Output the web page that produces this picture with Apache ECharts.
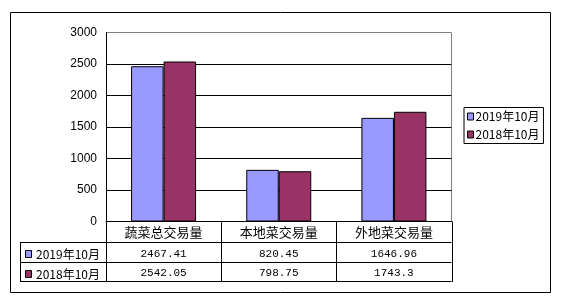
<!DOCTYPE html>
<html><head><meta charset="utf-8">
<script src="https://cdn.jsdelivr.net/npm/echarts@6/dist/echarts.min.js"></script>
<style>html,body{margin:0;padding:0;background:#fff}#c{width:562px;height:298px}</style>
</head><body><div id="c"></div>
<script>
var categories = ['蔬菜总交易量', '本地菜交易量', '外地菜交易量'];
var seriesNames = ['2019年10月', '2018年10月'];
var values2019 = [2467.41, 820.45, 1646.96];
var values2018 = [2542.05, 798.75, 1743.3];
var yTicks = [0, 500, 1000, 1500, 2000, 2500, 3000];

var C1 = '#9999FF', C2 = '#993366';
var FONT = '"Noto Sans CJK SC", "Liberation Sans", sans-serif';
var MONO = '"Liberation Mono", "DejaVu Sans Mono", monospace';
// layout
var GL = 106, GR = 451.5, GT = 32.7, GB = 221.5;
var R1 = 242, R2 = 262, R3 = 281, TL = 20.5;

var chart = echarts.init(document.getElementById('c'), null, {renderer: 'canvas'});

var graphics = [];
graphics.push({type:'rect', shape:{x:10.5,y:12.5,width:540,height:280}, style:{fill:null, stroke:'#000', lineWidth:1}, silent:true});
[R1, R2, R3].forEach(function(y){
  graphics.push({type:'line', shape:{x1:TL, y1:y+0.5, x2:GR, y2:y+0.5}, style:{stroke:'#000', lineWidth:1}});
});
graphics.push({type:'line', shape:{x1:TL, y1:R1, x2:TL, y2:R3+1}, style:{stroke:'#000', lineWidth:1}});
var cw = (GR - GL) / categories.length;
for (var i = 0; i <= categories.length; i++) {
  var x = Math.round(GL + cw * i) + 0.5;
  graphics.push({type:'line', shape:{x1:x, y1:GB, x2:x, y2:R3+1}, style:{stroke:'#000', lineWidth:1}});
}
graphics.push({type:'line', shape:{x1:451.5, y1:GT, x2:451.5, y2:GB}, style:{stroke:'#808080', lineWidth:1}});
[[R1, C1, seriesNames[0]], [R2, C2, seriesNames[1]]].forEach(function(r){
  graphics.push({type:'rect', shape:{x:25.5, y:r[0]+8.5, width:6, height:7}, style:{fill:r[1], stroke:'#000', lineWidth:1}});
  graphics.push({type:'text', x:36, y:r[0]+12.5, style:{text:r[2], font:'12px ' + FONT, fill:'#000', textVerticalAlign:'middle'}});
});

chart.setOption({
  animation: false,
  backgroundColor: '#fff',
  grid: {left: GL, right: 562 - GR, top: GT, bottom: 298 - GB, containLabel: false},
  legend: {
    orient: 'vertical', left: 464, top: 107.5, width: 83, height: 37,
    padding: [3, 4, 3, 3], itemGap: 6,
    borderColor: '#000', borderWidth: 1,
    icon: 'rect', itemWidth: 6, itemHeight: 7,
    itemStyle: {borderColor: '#000', borderWidth: 1},
    textStyle: {fontSize: 12, fontFamily: FONT, color: '#000', padding: [0,0,0,-3]},
    data: seriesNames
  },
  xAxis: [
    {type: 'category', data: categories, position: 'bottom',
     axisLine: {show: true, lineStyle: {color: '#000', width: 1}},
     axisTick: {show: false},
     axisLabel: {fontSize: 13, fontFamily: FONT, color: '#000', margin: 4}},
    {type: 'category', data: values2019.map(String), position: 'bottom', offset: R1 - GB,
     axisLine: {show: false}, axisTick: {show: false},
     axisLabel: {fontSize: 11, fontFamily: MONO, color: '#000', margin: 7}},
    {type: 'category', data: values2018.map(String), position: 'bottom', offset: R2 - GB,
     axisLine: {show: false}, axisTick: {show: false},
     axisLabel: {fontSize: 11, fontFamily: MONO, color: '#000', margin: 6}}
  ],
  yAxis: {
    type: 'value', min: yTicks[0], max: yTicks[yTicks.length - 1], interval: 500,
    axisLine: {show: true, lineStyle: {color: '#000', width: 1}},
    axisTick: {show: false},
    axisLabel: {fontSize: 12, fontFamily: '"Liberation Sans", Arial, sans-serif', color: '#000', margin: 9,
                formatter: function(v){ return String(v); }},
    splitLine: {show: true, lineStyle: {color: ['#000','#000','#000','#000','#000','#000','#808080'], width: 1}}
  },
  series: [
    {name: seriesNames[0], type: 'bar', data: values2019, barWidth: 32.5, barGap: '0%',
     itemStyle: {color: C1, borderColor: '#000', borderWidth: 1}},
    {name: seriesNames[1], type: 'bar', data: values2018, barWidth: 32.5, barGap: '0%',
     itemStyle: {color: C2, borderColor: '#000', borderWidth: 1}}
  ],
  graphic: graphics
});
</script></body></html>
